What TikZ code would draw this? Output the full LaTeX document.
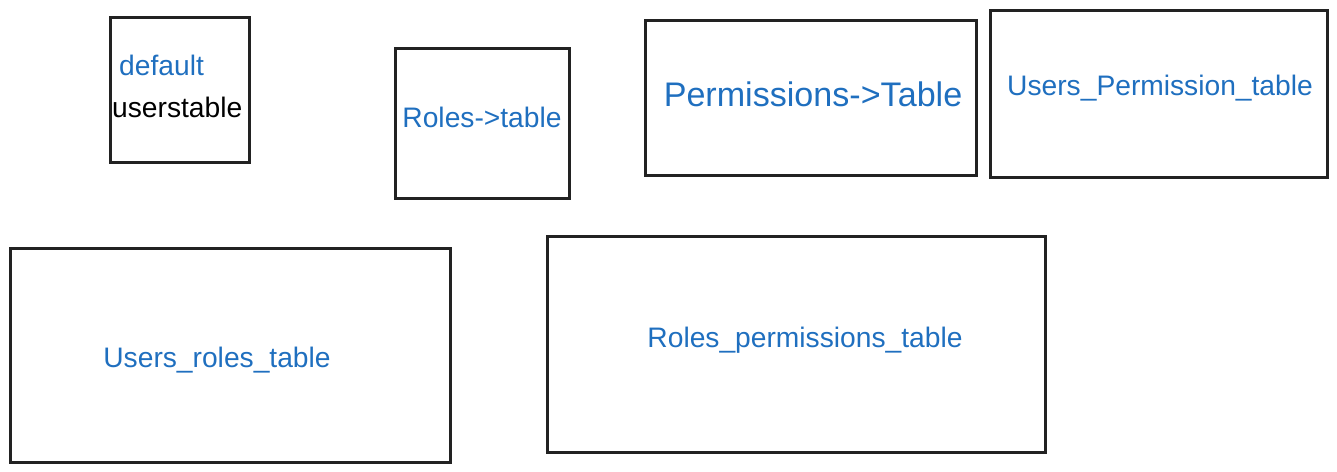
\documentclass[tikz,border=0pt]{standalone}
\usepackage{fontspec}
\setmainfont{Liberation Sans}
\definecolor{txtblue}{HTML}{1F6FBF}
\definecolor{edge}{HTML}{222222}
\begin{document}
\begin{tikzpicture}[x=1pt,y=-1pt,
  box/.style={draw=edge,line width=3.2pt,inner sep=0pt,anchor=north west},
  lbl/.style={text=txtblue,inner sep=0pt,anchor=base,font=\fontsize{28.2}{32}\selectfont},
  blk/.style={text=black,inner sep=0pt,anchor=base west,font=\fontsize{28.2}{32}\selectfont}]
\useasboundingbox (0,0) rectangle (1337,471);
\node[box,minimum width=139pt,minimum height=145pt] (b1) at (109,16) {};
\node[box,minimum width=174pt,minimum height=150pt] (b2) at (394,47) {};
\node[box,minimum width=331pt,minimum height=155pt] (b3) at (644,19) {};
\node[box,minimum width=337pt,minimum height=167pt] (b4) at (989,9) {};
\node[box,minimum width=440pt,minimum height=214pt] (b5) at (9,247) {};
\node[box,minimum width=498pt,minimum height=216pt] (b6) at (546,235) {};
\node[lbl,anchor=base west] (t1a) at (119,75) {default};
\node[blk] (t1b) at (112,117) {userstable};
\node[lbl] (t2) at (482,127) {Roles->table};
\node[lbl,font=\fontsize{34.1}{38}\selectfont] (t3) at (813,106) {Permissions->Table};
\node[lbl] (t4) at (1160,95) {Users\_Permission\_table};
\node[lbl] (t5) at (217,367) {Users\_roles\_table};
\node[lbl] (t6) at (805,347) {Roles\_permissions\_table};
\end{tikzpicture}
\end{document}
